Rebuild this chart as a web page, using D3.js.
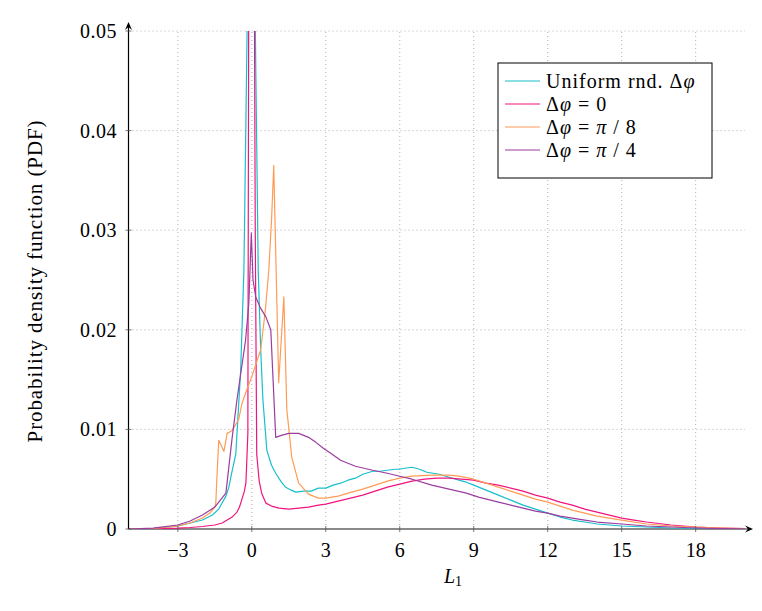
<!DOCTYPE html>
<html>
<head>
<meta charset="utf-8">
<script src="https://cdn.jsdelivr.net/npm/d3@7"></script>
<style>
  body { margin: 0; background: #fff; }
  svg text { font-family: "Liberation Serif", "DejaVu Serif", serif; fill: #000; }
</style>
</head>
<body>
<svg id="chart"></svg>
<script>
// data
const xTicks = [-3, 0, 3, 6, 9, 12, 15, 18]
const yTicks = [0, 0.01, 0.02, 0.03, 0.04, 0.05]

const uniX = [-5, -4, -3, -2.5, -2, -1.6, -1.34, -1.05, -0.93, -0.8, -0.65, -0.45, -0.32, -0.18, -0.05, 0.12, 0.26, 0.36, 0.45, 0.61, 0.8, 0.97, 1.2, 1.37, 1.6, 1.78, 2.1, 2.4, 2.7, 3, 3.3, 3.6, 3.9, 4.2, 4.5, 4.9, 5.2, 5.5, 5.8, 6, 6.2, 6.5, 6.8, 7.1, 7.6, 8, 8.4, 8.7, 9, 9.5, 10, 10.5, 11, 11.5, 12, 12.5, 13, 13.5, 14, 15, 16, 17, 18, 19, 20]
const uniY = [0, 0.00005, 0.0003, 0.0006, 0.0009, 0.0014, 0.002, 0.0033, 0.0042, 0.0058, 0.0075, 0.016, 0.026, 0.052, 0.08, 0.055, 0.026, 0.018, 0.013, 0.0079, 0.0064, 0.0056, 0.0047, 0.0042, 0.0039, 0.0037, 0.0038, 0.0038, 0.0041, 0.0041, 0.0044, 0.0046, 0.0049, 0.0051, 0.0055, 0.0058, 0.0058, 0.0059, 0.006, 0.006, 0.0061, 0.0062, 0.006, 0.0057, 0.0055, 0.0052, 0.0049, 0.0047, 0.0044, 0.0039, 0.0034, 0.0029, 0.0024, 0.002, 0.0016, 0.0012, 0.0009, 0.0007, 0.0005, 0.0003, 0.0002, 0.0001, 0.00006, 0.00003, 0.00001]

const zeroX = [-5, -4, -3, -2.5, -2, -1.5, -1.2, -1, -0.8, -0.6, -0.5, -0.4, -0.3, -0.24, -0.2, -0.16, -0.12, 0, 0.08, 0.14, 0.2, 0.3, 0.4, 0.57, 0.8, 1.1, 1.5, 1.9, 2.3, 2.7, 3, 3.5, 4, 4.5, 5, 5.5, 6, 6.5, 7, 7.5, 8, 8.5, 9, 9.5, 10, 10.5, 11, 11.5, 12, 12.5, 13, 13.5, 14, 14.5, 15, 15.5, 16, 17, 18, 19, 20]
const zeroY = [0, 0.00002, 0.00008, 0.00015, 0.00025, 0.0004, 0.0006, 0.0009, 0.0012, 0.0017, 0.0022, 0.003, 0.0038, 0.0046, 0.007, 0.0096, 0.06, 0.12, 0.07, 0.03, 0.0075, 0.0048, 0.0036, 0.0026, 0.0023, 0.0021, 0.002, 0.0021, 0.0022, 0.0024, 0.0025, 0.0028, 0.0031, 0.0034, 0.0038, 0.0042, 0.0045, 0.0048, 0.005, 0.0051, 0.0051, 0.005, 0.0049, 0.0046, 0.0044, 0.0041, 0.0038, 0.0034, 0.0031, 0.0027, 0.0024, 0.002, 0.0017, 0.0014, 0.0011, 0.0009, 0.0007, 0.0004, 0.0002, 0.0001, 0.00004]

const pi8X = [-5, -4, -3, -2.5, -2, -1.7, -1.5, -1.46, -1.42, -1.34, -1.13, -1.0, -0.93, -0.8, -0.53, -0.4, -0.2, 0, 0.2, 0.36, 0.55, 0.69, 0.8, 0.89, 1.09, 1.3, 1.42, 1.62, 1.9, 2.3, 2.7, 3, 3.5, 3.9, 4.5, 5, 5.5, 6, 6.5, 7.3, 8, 8.4, 9, 9.5, 10, 10.5, 11, 11.5, 12, 12.5, 13, 13.5, 14, 15, 16, 17, 18, 19, 20]
const pi8Y = [0, 0.00005, 0.0003, 0.0006, 0.0011, 0.0016, 0.0022, 0.0026, 0.0049, 0.0089, 0.0078, 0.0096, 0.0097, 0.0099, 0.011, 0.0126, 0.014, 0.0153, 0.0168, 0.018, 0.022, 0.026, 0.031, 0.0365, 0.0147, 0.0233, 0.012, 0.0072, 0.0046, 0.0035, 0.0031, 0.0031, 0.0033, 0.0036, 0.004, 0.0044, 0.0048, 0.0051, 0.0053, 0.0054, 0.0054, 0.0053, 0.005, 0.0046, 0.0042, 0.0038, 0.0034, 0.003, 0.0027, 0.0023, 0.0019, 0.0016, 0.0013, 0.0009, 0.0005, 0.0003, 0.0002, 0.0001, 0.00003]

const pi4X = [-5, -4, -3, -2.5, -2, -1.5, -1.05, -0.8, -0.6, -0.25, -0.12, -0.02, 0.05, 0.16, 0.35, 0.57, 0.77, 0.97, 1.2, 1.5, 1.9, 2.3, 2.6, 2.9, 3.2, 3.6, 4.2, 4.9, 5.5, 6, 6.5, 7.3, 8, 8.7, 9.2, 10, 10.5, 11, 11.5, 12, 12.5, 13, 13.5, 14, 15, 16, 17, 18, 19, 20]
const pi4Y = [0, 0.00008, 0.0004, 0.0008, 0.0014, 0.0022, 0.0036, 0.0091, 0.013, 0.019, 0.0227, 0.0297, 0.025, 0.0233, 0.0222, 0.0213, 0.02, 0.0092, 0.0094, 0.0096, 0.0096, 0.0092, 0.0087, 0.0081, 0.0076, 0.0069, 0.0063, 0.0059, 0.0056, 0.0053, 0.005, 0.0044, 0.004, 0.0036, 0.0032, 0.0027, 0.0024, 0.0021, 0.0018, 0.0016, 0.0013, 0.0011, 0.0009, 0.0007, 0.0005, 0.0003, 0.0002, 0.0001, 0.00005, 0.00002]

const series = [
    { xs: uniX, ys: uniY, color: "#17bfcc" },
    { xs: zeroX, ys: zeroY, color: "#f0147e" },
    { xs: pi8X, ys: pi8Y, color: "#ff9b55" },
    { xs: pi4X, ys: pi4Y, color: "#9b3d9e" }
]

const width = 762
const height = 611
const svg = d3.select('#chart')
    .attr("width", width)
    .attr("height", height)

const x = d3.scaleLinear().domain([-5, 20]).range([128.5, 745])
const y = d3.scaleLinear().domain([0, 0.05]).range([529, 31])

// grid
const grid = svg.append('g')
grid.selectAll('.vg')
    .data(xTicks)
    .enter()
    .append('line')
    .attr('x1', d => x(d)).attr('x2', d => x(d))
    .attr('y1', y(0)).attr('y2', y(0.05))
    .attr('stroke', '#b0b0b0')
    .attr('stroke-width', 1)
    .attr('stroke-dasharray', '1,3')
grid.selectAll('.hg')
    .data(yTicks.slice(1))
    .enter()
    .append('line')
    .attr('x1', x(-5)).attr('x2', x(20))
    .attr('y1', d => y(d)).attr('y2', d => y(d))
    .attr('stroke', '#b0b0b0')
    .attr('stroke-width', 1)
    .attr('stroke-dasharray', '1,3')

// curves, clipped to the plot box
svg.append('clipPath').attr('id', 'clip')
    .append('rect')
    .attr('x', x(-5)).attr('y', y(0.05))
    .attr('width', x(20) - x(-5)).attr('height', y(0) - y(0.05))

const line = d3.line()
    .x(d => x(d[0]))
    .y(d => y(d[1]))

// x axis line underneath the curves
svg.append('line')
    .attr('x1', x(-5)).attr('x2', 748)
    .attr('y1', y(0)).attr('y2', y(0))
    .attr('stroke', '#8a8a8a')
    .attr('stroke-width', 2)

svg.append('g')
    .attr('clip-path', 'url(#clip)')
    .selectAll('path')
    .data(series)
    .enter()
    .append('path')
    .attr('d', s => line(s.xs.map((v, i) => [v, s.ys[i]])))
    .attr('fill', 'none')
    .attr('stroke', s => s.color)
    .attr('stroke-width', 1.2)
    .attr('stroke-linejoin', 'round')

// axes
svg.append('line')
    .attr('x1', x(-5)).attr('x2', x(-5))
    .attr('y1', y(0)).attr('y2', 26)
    .attr('stroke', '#000').attr('stroke-width', 1.2)
svg.append('path')
    .attr('d', `M${x(-5) - 3.5},30 L${x(-5)},22 L${x(-5) + 3.5},30 L${x(-5)},27 Z`)
    .attr('fill', '#000')
svg.append('path')
    .attr('d', `M745,${y(0) - 3.5} L753,${y(0)} L745,${y(0) + 3.5} L748,${y(0)} Z`)
    .attr('fill', '#000')

// ticks
svg.selectAll('.xt')
    .data(xTicks)
    .enter()
    .append('line')
    .attr('x1', d => x(d)).attr('x2', d => x(d))
    .attr('y1', y(0) - 3).attr('y2', y(0) + 3)
    .attr('stroke', '#555').attr('stroke-width', 0.8)
svg.selectAll('.yt')
    .data(yTicks)
    .enter()
    .append('line')
    .attr('x1', x(-5) - 3).attr('x2', x(-5) + 3)
    .attr('y1', d => y(d)).attr('y2', d => y(d))
    .attr('stroke', '#555').attr('stroke-width', 0.8)

svg.selectAll('.xl')
    .data(xTicks)
    .enter()
    .append('text')
    .attr('x', d => x(d))
    .attr('y', 557)
    .attr('text-anchor', 'middle')
    .attr('font-size', 20)
    .text(d => d < 0 ? '\u2212' + Math.abs(d) : d)

svg.selectAll('.yl')
    .data(yTicks)
    .enter()
    .append('text')
    .attr('x', 117)
    .attr('y', d => y(d) + 7)
    .attr('text-anchor', 'end')
    .attr('font-size', 20)
    .attr('letter-spacing', 0.5)
    .text(d => d === 0 ? '0' : d.toFixed(2))

// axis titles
const xt = svg.append('text')
    .attr('x', 453).attr('y', 583)
    .attr('text-anchor', 'middle')
    .attr('font-size', 20)
xt.append('tspan').attr('font-style', 'italic').text('L')
xt.append('tspan').attr('font-size', 14).attr('dy', 3).text('1')

svg.append('text')
    .attr('transform', 'translate(42,281) rotate(-90)')
    .attr('text-anchor', 'middle')
    .attr('font-size', 21)
    .attr('letter-spacing', 0.9)
    .text('Probability density function (PDF)')

// legend
const legend = svg.append('g')
legend.append('rect')
    .attr('x', 498).attr('y', 63)
    .attr('width', 214).attr('height', 115)
    .attr('fill', '#fff')
    .attr('stroke', '#000')
    .attr('stroke-width', 1)

const legendRows = [
    { color: series[0].color, parts: [['Uniform rnd. \u0394', 'normal'], ['\u03c6', 'italic']] },
    { color: series[1].color, parts: [['\u0394', 'normal'], ['\u03c6', 'italic'], [' = 0', 'normal']] },
    { color: series[2].color, parts: [['\u0394', 'normal'], ['\u03c6', 'italic'], [' = ', 'normal'], ['\u03c0', 'italic'], [' / 8', 'normal']] },
    { color: series[3].color, parts: [['\u0394', 'normal'], ['\u03c6', 'italic'], [' = ', 'normal'], ['\u03c0', 'italic'], [' / 4', 'normal']] }
]

legendRows.forEach((row, i) => {
    const ly = 81 + i * 23
    legend.append('line')
        .attr('x1', 505).attr('x2', 540)
        .attr('y1', ly).attr('y2', ly)
        .attr('stroke', row.color)
        .attr('stroke-width', 1.2)
    const t = legend.append('text')
        .attr('x', 546).attr('y', ly + 7)
        .attr('font-size', 20)
        .attr('letter-spacing', 1)
        .attr('xml:space', 'preserve')
    row.parts.forEach(p => {
        t.append('tspan').attr('font-style', p[1]).text(p[0])
    })
})
</script>
</body>
</html>
